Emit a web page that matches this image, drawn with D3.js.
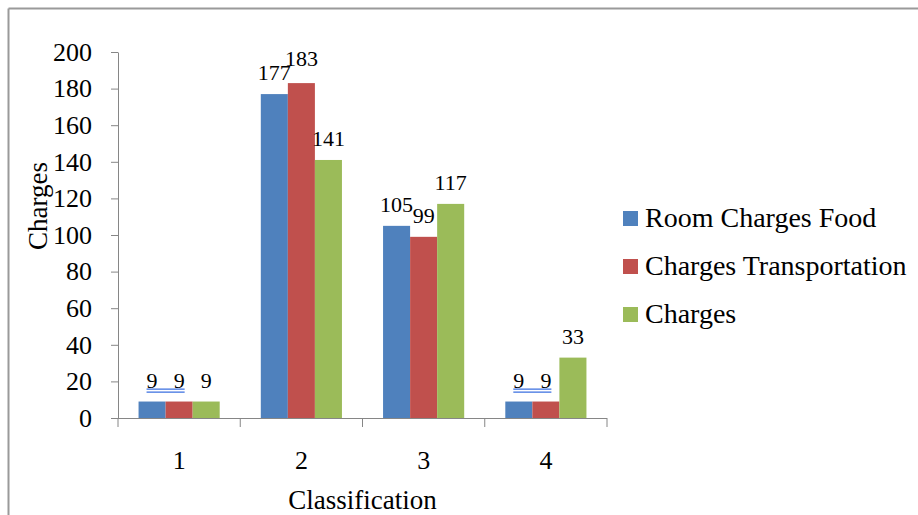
<html>
<head>
<title>Charges by Classification</title>
<script type="text/javascript" src="https://cdn.jsdelivr.net/npm/d3@7/dist/d3.min.js"></script>
<style type="text/css">
body { margin: 0; background: white; }
text { font-family: "Liberation Serif", "Times New Roman", serif; fill: #000; }
.axis path, .axis line { stroke: #868686; }
</style>
</head>
<body>
<script>

  // data
  var categories = ["1", "2", "3", "4"];
  var seriesNames = ["Room Charges Food", "Charges Transportation", "Charges"];
  var roomFood = [9, 177, 105, 9];
  var transportation = [9, 183, 99, 9];
  var charges = [9, 141, 117, 33];
  var yTicks = [0, 20, 40, 60, 80, 100, 120, 140, 160, 180, 200];
  var colors = ["#4F81BD", "#C0504D", "#9BBB59"];

  var allSeries = [roomFood, transportation, charges];

  var width = 918,
      height = 515;

  var svg = d3.select("body").append("svg")
    .attr("width", width)
    .attr("height", height)
    .style("background", "white");

  // outer frame (only top and left are visible in the picture)
  svg.append("line").attr("x1", 8.5).attr("y1", 8.5).attr("x2", width).attr("y2", 8.5)
    .attr("stroke", "#9a9a9a").attr("stroke-width", 2);
  svg.append("line").attr("x1", 8.5).attr("y1", 8.5).attr("x2", 8.5).attr("y2", height)
    .attr("stroke", "#9a9a9a").attr("stroke-width", 2);

  var plotL = 118, plotR = 607, plotT = 52, plotB = 418;

  var x0 = d3.scaleBand().domain(categories).range([plotL, plotR]).padding(0);
  var x1 = d3.scaleBand().domain(d3.range(seriesNames.length))
    .range([0, x0.bandwidth()]).paddingInner(0).paddingOuter(0.76);
  var y = d3.scaleLinear().domain([0, 200]).range([plotB, plotT]);

  // y axis
  var yAxis = svg.append("g")
    .attr("class", "axis")
    .attr("transform", "translate(" + plotL + ",0)")
    .call(d3.axisLeft(y).tickValues(yTicks).tickSize(7).tickPadding(19).tickSizeOuter(0));
  yAxis.selectAll("text").style("font-size", "26px").attr("font-family", null).attr("fill", "#000");

  // bars
  var groups = svg.selectAll("g.grp")
    .data(categories)
    .enter().append("g")
    .attr("class", "grp")
    .attr("transform", function(d){ return "translate(" + x0(d) + ",0)"; });

  groups.selectAll("rect")
    .data(function(d, i){ return allSeries.map(function(s, k){ return {k: k, v: s[i]}; }); })
    .enter().append("rect")
    .attr("x", function(d){ return x1(d.k); })
    .attr("width", x1.bandwidth())
    .attr("y", function(d){ return y(d.v); })
    .attr("height", function(d){ return y(0) - y(d.v); })
    .attr("fill", function(d){ return colors[d.k]; });

  groups.selectAll("text.val")
    .data(function(d, i){ return allSeries.map(function(s, k){ return {k: k, v: s[i]}; }); })
    .enter().append("text")
    .attr("class", "val")
    .attr("x", function(d){ return x1(d.k) + x1.bandwidth() / 2; })
    .attr("y", function(d){ return y(d.v) - (d.v > 180 ? 17 : 14); })
    .attr("text-anchor", "middle")
    .style("font-size", "22px")
    .text(function(d){ return d.v; });

  // the blue double underline under the repeated "9 9" labels
  groups.each(function(c, i){
    if (roomFood[i] === transportation[i] && roomFood[i] < 20) {
      var g = d3.select(this);
      var xa = x1(0) + 8, xb = x1(1) + x1.bandwidth() - 8;
      [0, 3].forEach(function(o){
        g.append("line")
          .attr("x1", xa).attr("x2", xb)
          .attr("y1", y(roomFood[i]) - 12.5 + o).attr("y2", y(roomFood[i]) - 12.5 + o)
          .attr("stroke", "#3a6fe0").attr("stroke-width", 1.2);
      });
    }
  });

  // x axis
  var xAxis = svg.append("g").attr("class", "axis");
  xAxis.append("line")
    .attr("x1", plotL).attr("x2", plotR)
    .attr("y1", plotB + 0.5).attr("y2", plotB + 0.5);
  xAxis.selectAll("line.tick")
    .data(categories.concat(["end"]))
    .enter().append("line")
    .attr("class", "tick")
    .attr("x1", function(d){ return d === "end" ? plotR : x0(d); })
    .attr("x2", function(d){ return d === "end" ? plotR : x0(d); })
    .attr("y1", plotB).attr("y2", plotB + 9);
  xAxis.selectAll("text")
    .data(categories)
    .enter().append("text")
    .attr("x", function(d){ return x0(d) + x0.bandwidth() / 2; })
    .attr("y", 469)
    .attr("text-anchor", "middle")
    .style("font-size", "26px")
    .text(function(d){ return d; });

  // axis titles
  svg.append("text")
    .attr("x", (plotL + plotR) / 2)
    .attr("y", 509)
    .attr("text-anchor", "middle")
    .style("font-size", "27px")
    .text("Classification");

  svg.append("text")
    .attr("transform", "translate(47,206) rotate(-90)")
    .attr("text-anchor", "middle")
    .style("font-size", "27px")
    .text("Charges");

  // legend
  var legend = svg.selectAll("g.leg")
    .data(seriesNames)
    .enter().append("g")
    .attr("class", "leg")
    .attr("transform", function(d, i){ return "translate(623," + (218 + i * 48) + ")"; });
  legend.append("rect")
    .attr("x", 0).attr("y", -7)
    .attr("width", 15).attr("height", 15)
    .attr("fill", function(d, i){ return colors[i]; });
  legend.append("text")
    .attr("x", 22).attr("y", 9)
    .style("font-size", "28px")
    .text(function(d){ return d; });

</script>
</body>
</html>
